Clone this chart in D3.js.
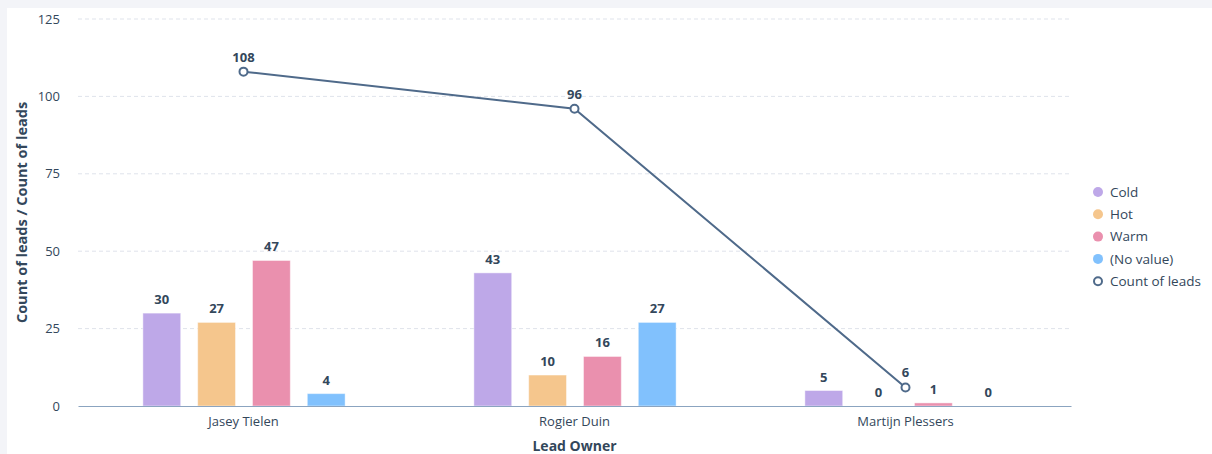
<!DOCTYPE html>
<html>
<head>
<meta charset="utf-8">
<script src="https://cdn.jsdelivr.net/npm/d3@7"></script>
<style>
  html, body { margin: 0; padding: 0; background: #f3f4f8; }
  body { width: 1212px; height: 454px; overflow: hidden; }
  svg { display: block; font-family: "Open Sans", "Noto Sans", sans-serif; }
</style>
</head>
<body>
<svg id="chart" width="1212" height="454"></svg>
<script>
// Lead owners along the x axis
const owners = ["Jasey Tielen", "Rogier Duin", "Martijn Plessers"];
// Lead status series (bars)
const seriesNames = ["Cold", "Hot", "Warm", "(No value)"];
const cold = [30, 43, 5];
const hot = [27, 10, 0];
const warm = [47, 16, 1];
const noValue = [4, 27, 0];
// Total count of leads per owner (line)
const totalLeads = [108, 96, 6];
const yTicks = [0, 25, 50, 75, 100, 125];
const lineName = "Count of leads";

const colors = { "Cold": "#bea8e8", "Hot": "#f5c68d", "Warm": "#ea90ae", "(No value)": "#81c1fd" };
const lineColor = "#4f6a8a";
const textColor = "#33475b";

const seriesValues = [cold, hot, warm, noValue];
const rows = owners.map((o, i) => ({
  owner: o,
  values: seriesNames.map((s, j) => ({ key: s, value: seriesValues[j][i] }))
}));

const svg = d3.select("#chart");
const W = 1212, H = 454;
const margin = { top: 19, left: 78, right: 141, bottom: 48 };
const plotW = W - margin.left - margin.right;
const plotH = H - margin.top - margin.bottom;

// white panel
svg.append("rect").attr("x", 7).attr("y", 8).attr("width", W - 7).attr("height", H - 8).attr("fill", "#ffffff");

const g = svg.append("g").attr("transform", `translate(${margin.left},${margin.top})`);

const x = d3.scaleBand().domain(owners).range([0, plotW]);
const xInner = d3.scaleBand().domain(seriesNames)
  .range([x.bandwidth() * 0.196, x.bandwidth() * 0.807]).paddingInner(0.31);
const y = d3.scaleLinear().domain([0, 125]).range([plotH, 0]);

// gridlines
g.append("g").selectAll("line").data(yTicks.filter(t => t > 0)).join("line")
  .attr("x1", 0).attr("x2", plotW)
  .attr("y1", d => y(d)).attr("y2", d => y(d))
  .attr("stroke", "#dfe3eb").attr("stroke-width", 1).attr("stroke-dasharray", "4,3");

// y axis labels
const yAxis = g.append("g").call(d3.axisLeft(y).tickValues(yTicks).tickSize(0).tickPadding(18));
yAxis.select(".domain").remove();
yAxis.selectAll("text").attr("fill", textColor).attr("font-size", 13).style("font-family", "Open Sans, sans-serif");

// bars
const groups = g.append("g").selectAll("g").data(rows).join("g")
  .attr("transform", d => `translate(${x(d.owner)},0)`);
groups.selectAll("rect").data(d => d.values).join("rect")
  .attr("x", d => xInner(d.key))
  .attr("width", xInner.bandwidth())
  .attr("y", d => y(d.value))
  .attr("height", d => plotH - y(d.value))
  .attr("fill", d => colors[d.key])
  .attr("stroke", "rgba(255,255,255,0.45)").attr("stroke-width", 1);
groups.selectAll("text").data(d => d.values).join("text")
  .attr("x", d => xInner(d.key) + xInner.bandwidth() / 2)
  .attr("y", d => y(d.value) - 9)
  .attr("text-anchor", "middle")
  .attr("font-size", 13).attr("font-weight", 700).attr("fill", textColor)
  .text(d => d.value);

// x axis baseline and labels
const xAxis = g.append("g").attr("transform", `translate(0,${plotH})`)
  .call(d3.axisBottom(x).tickSize(0).tickPadding(11));
xAxis.select(".domain").attr("stroke", "#8ba4c0").attr("stroke-width", 1.2);
xAxis.selectAll("text").attr("fill", textColor).attr("font-size", 13).style("font-family", "Open Sans, sans-serif");

// total line
const cx = i => x(owners[i]) + x.bandwidth() / 2;
const line = d3.line().x((d, i) => cx(i)).y(d => y(d));
g.append("path").datum(totalLeads).attr("d", line)
  .attr("fill", "none").attr("stroke", lineColor).attr("stroke-width", 2);
g.append("g").selectAll("circle").data(totalLeads).join("circle")
  .attr("cx", (d, i) => cx(i)).attr("cy", d => y(d)).attr("r", 4)
  .attr("fill", "#fff").attr("stroke", lineColor).attr("stroke-width", 2);
g.append("g").selectAll("text").data(totalLeads).join("text")
  .attr("x", (d, i) => cx(i)).attr("y", d => y(d) - 10)
  .attr("text-anchor", "middle")
  .attr("font-size", 13).attr("font-weight", 700).attr("fill", textColor)
  .text(d => d);

// axis titles
svg.append("text")
  .attr("transform", `translate(27,${margin.top + plotH / 2}) rotate(-90)`)
  .attr("text-anchor", "middle").attr("font-size", 14.5).attr("font-weight", 700).attr("fill", textColor)
  .text("Count of leads / Count of leads");
svg.append("text")
  .attr("x", margin.left + plotW / 2).attr("y", 451)
  .attr("text-anchor", "middle").attr("font-size", 14).attr("font-weight", 700).attr("fill", textColor)
  .text("Lead Owner");

// legend
const legend = svg.append("g").attr("transform", "translate(1098,192)");
const legendItems = seriesNames.map(s => ({ name: s, type: "bar" })).concat([{ name: lineName, type: "line" }]);
const li = legend.selectAll("g").data(legendItems).join("g")
  .attr("transform", (d, i) => `translate(0,${i * 22.3})`);
li.append("circle").attr("r", d => d.type === "bar" ? 5 : 4)
  .attr("fill", d => d.type === "bar" ? colors[d.name] : "#fff")
  .attr("stroke", d => d.type === "bar" ? "none" : lineColor)
  .attr("stroke-width", 2);
li.append("text").attr("x", 12).attr("dy", "0.35em")
  .attr("font-size", 13.5).attr("fill", textColor).text(d => d.name);
</script>
</body>
</html>
